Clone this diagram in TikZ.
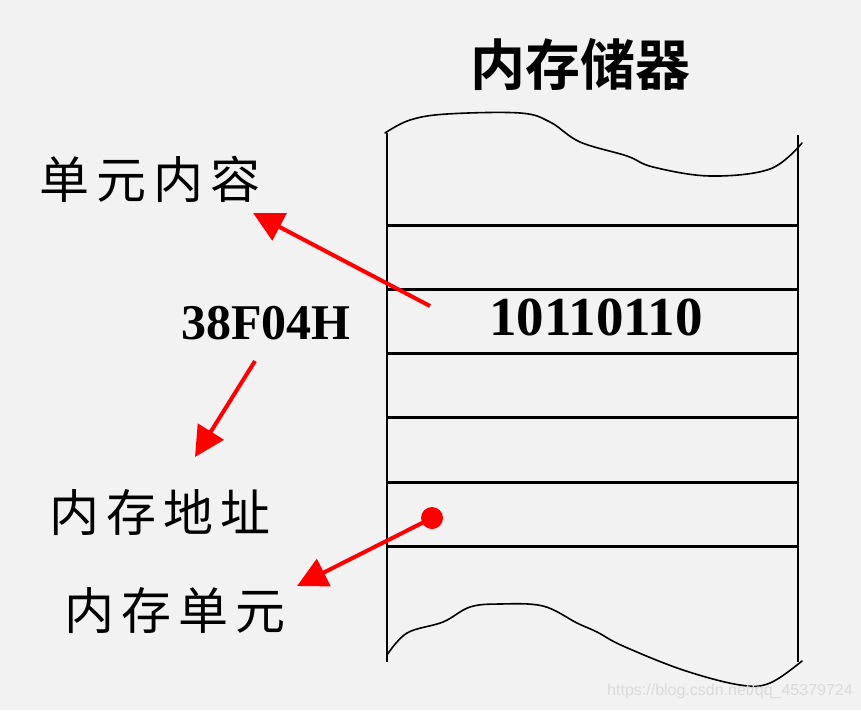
\documentclass[tikz,border=0pt]{standalone}
\usepackage{fontspec}
\setmainfont{Liberation Serif}
\setsansfont{Liberation Sans}
\newfontfamily\cjkbold[BoldFont={* Bold}]{Noto Sans CJK SC}
\newfontfamily\cjkwide[LetterSpace=14]{Noto Sans CJK SC}
\usetikzlibrary{arrows.meta}
\definecolor{cbg}{HTML}{F2F2F2}
\definecolor{cred}{HTML}{FF0000}
\definecolor{cmark}{HTML}{DADADA}
\tikzset{
  every picture/.style={line width=2.4pt},
  cellline/.style={draw=black, line width=2.4pt},
  wave/.style={draw=black, line width=1.6pt, line join=round, line cap=round},
  pointer/.style={-{Triangle[length=30pt, width=30pt]}, draw=cred, line width=4pt},
  cntext/.style={font=\cjkwide\fontsize{50}{50}\selectfont, inner sep=0pt, anchor=west},
  numtext/.style={font=\bfseries\fontsize{55}{55}\selectfont, inner sep=0pt},
  titletext/.style={font=\cjkbold\bfseries\fontsize{55}{55}\selectfont, inner sep=0pt},
  dotmark/.style={circle, fill=cred, inner sep=0pt, minimum size=22pt},
  watermark/.style={font=\sffamily\fontsize{16}{16}\selectfont, text=cmark, inner sep=0pt},
}

\begin{document}
\begin{tikzpicture}[x=1pt, y=-1pt]
  \fill[cbg] (0,0) rectangle (861,710);
  \useasboundingbox (0,0) rectangle (861,710);
  % the memory strip
  \node[titletext] (title) at (580,65) {内存储器};
  \draw[cellline] (387,133) -- (387,662);
  \draw[cellline] (798,135) -- (798,662);
  \foreach \y in {225.5, 289.5, 353.5, 417.5, 482.5, 546.5}
    { \draw[cellline] (387,\y) -- (798,\y); }
  \draw[wave] plot[smooth, tension=0.6] coordinates {(385,133) (410,120) (447,114) (520,113)
    (550,122) (580,142) (627,156) (653,167) (710,176) (770,169) (802,143)};
  \draw[wave] plot[smooth, tension=0.6] coordinates {(387,655) (407,633) (443,622) (470,607)
    (500,604) (543,606) (577,623) (597,632) (623,646) (683,670) (740,685) (770,683) (802,661)};
  \node[numtext] (value) at (596,317) {10110110};
  % labels on the left
  \node[cntext] (content) at (38,179) {单元内容};
  \node[numtext, font=\bfseries\fontsize{50}{50}\selectfont] (addr) at (266,323) {38F04H};
  \node[cntext] (address) at (48,513) {内存地址};
  \node[cntext] (unit) at (63,611) {内存单元};
  % pointers
  \coordinate (c1) at (430,306);
  \coordinate (t1) at (253,213);
  \coordinate (c2) at (255,361);
  \coordinate (t2) at (195,457);
  \coordinate (t3) at (297,586);
  \node[dotmark] (dot) at (432,518) {};
  \draw[pointer] (c1) -- (t1);
  \draw[pointer] (c2) -- (t2);
  \draw[pointer] (dot.center) -- (t3);
  \node[watermark] (mark) at (730,691) {https://blog.csdn.net/qq\_45379724};
\end{tikzpicture}
\end{document}
